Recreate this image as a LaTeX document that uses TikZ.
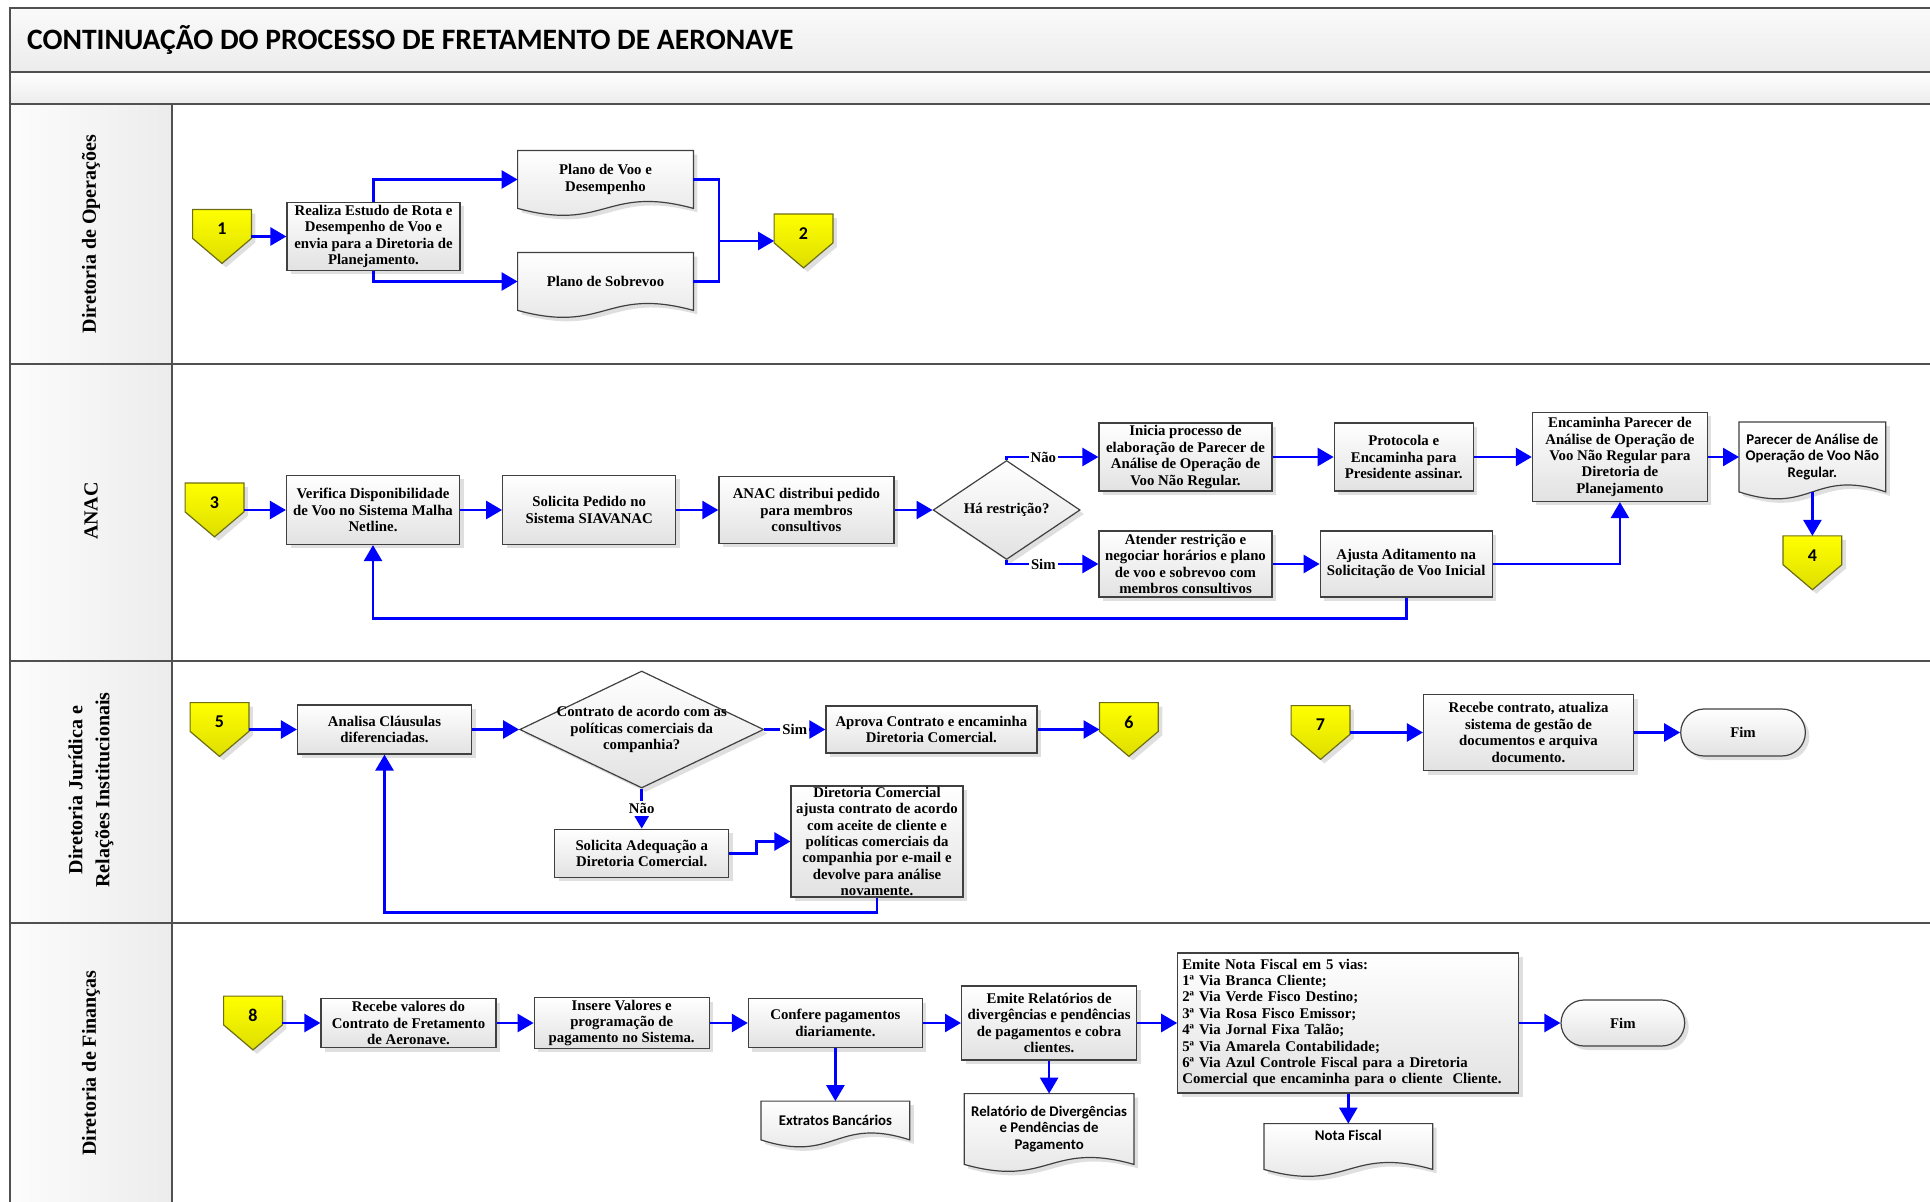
\documentclass[tikz,border=0pt]{standalone}
\usepackage{fontspec}
\setmainfont{Liberation Serif}
\newfontfamily\calibfont{Carlito}
\usetikzlibrary{positioning,arrows.meta,calc,shapes.geometric,shapes.misc,shadows,backgrounds}
\definecolor{FlowBlue}{RGB}{0,0,255}
\definecolor{EdgeGray}{RGB}{64,64,64}
\definecolor{LaneGray}{RGB}{80,80,80}
\definecolor{BoxBottom}{RGB}{226,226,226}
\definecolor{BandGray}{RGB}{236,236,236}
\definecolor{ConnTop}{RGB}{255,255,0}
\definecolor{ConnBottom}{RGB}{222,222,0}
\definecolor{ConnEdge}{RGB}{110,110,20}
\newcommand{\boxfont}{\fontsize{7.4pt}{8.2pt}\selectfont\bfseries}
\newcommand{\docfont}{\calibfont\fontsize{7.4pt}{8.2pt}\selectfont\bfseries}
\newcommand{\connfont}{\calibfont\fontsize{9pt}{10pt}\selectfont\bfseries}
\newcommand{\titlefont}{\calibfont\fontsize{14.8pt}{16pt}\selectfont\bfseries}
\tikzset{
  flow/.style={-{Triangle[length=8pt,width=9pt]},line width=1.3pt,draw=FlowBlue},
  plainflow/.style={line width=1.3pt,draw=FlowBlue},
  lane/.style={draw=LaneGray,line width=1pt},
  lanelabel/.style={rotate=90,align=center,font=\fontsize{10pt}{13.5pt}\selectfont\bfseries},
  shadebox/.style={draw=EdgeGray,line width=0.6pt,top color=white,bottom color=BoxBottom,
    drop shadow={shadow xshift=2pt,shadow yshift=-2pt,fill=gray!50}},
  proc/.style={shadebox,align=center,font=\boxfont,inner sep=1pt},
  decide/.style={diamond,shadebox,align=center,font=\boxfont,inner sep=0pt},
  term/.style={rounded rectangle,shadebox,font=\boxfont},
  doc/.style={align=center,font=\boxfont,inner sep=1pt},
  sansdoc/.style={doc,font=\docfont},
  docshape/.style={shadebox},
  conn/.style={minimum width=29pt,minimum height=26.5pt,inner sep=0pt,text depth=7.5pt,font=\connfont},
  connshape/.style={draw=ConnEdge,line width=0.6pt,top color=ConnTop,bottom color=ConnBottom,
    drop shadow={shadow xshift=2pt,shadow yshift=-2pt,fill=gray!50}},
  lbl/.style={fill=white,inner sep=1pt,font=\boxfont}
}
\begin{document}
\begin{tikzpicture}[x=0.5pt,y=-0.5pt]
  \useasboundingbox (0,0) rectangle (1930,1202);
  % frame and lanes
  \shade[top color=gray!4,bottom color=BandGray] (10,8) rectangle (1932,72);
  \shade[top color=white,bottom color=BandGray] (10,72) rectangle (1932,104);
  \shade[left color=gray!2,right color=BandGray] (10,104) rectangle (172,1204);
  \draw[lane] (1932,8) -- (10,8) -- (10,1204);
  \foreach \y in {72,104,364,661,923} \draw[lane] (10,\y) -- (1932,\y);
  \draw[lane] (172,104) -- (172,1204);
  \node[anchor=west,font=\titlefont] (title) at (20,40) {CONTINUAÇÃO DO PROCESSO DE FRETAMENTO DE AERONAVE};
  \node[lanelabel] (lopr) at (91,234) {Diretoria de Operações};
  \node[lanelabel] (lanac) at (91,511) {ANAC};
  \node[lanelabel] (ljur) at (91,790) {Diretoria Jurídica e\\Relações Institucionais};
  \node[lanelabel] (lfin) at (91,1063) {Diretoria de Finanças};

  % Diretoria de Operacoes
  \node[conn] (c1) at (222,236.5) {1};
  \node[proc,right=17.5pt of c1,minimum width=86.5pt,minimum height=34pt] (realiza) {Realiza Estudo de Rota e\\Desempenho de Voo e\\envia para a Diretoria de\\Planejamento.};
  \node[doc,minimum width=87.5pt,minimum height=28.5pt] (pvoo) at (605.5,179.5) {Plano de Voo e\\Desempenho};
  \node[doc,minimum width=87.5pt,minimum height=28.5pt] (psob) at (605.5,281.5) {Plano de Sobrevoo};
  \node[conn] (c2) at (803.5,241) {2};
  \coordinate (j1) at (719,241);
  \draw[flow] (c1) -- (realiza);
  \draw[flow] (realiza.north) |- (pvoo);
  \draw[flow] (realiza.south) |- (psob);
  \draw[plainflow] (pvoo) -| (j1);
  \draw[plainflow] (psob) -| (j1);
  \draw[flow] (j1) -- (c2);

  % ANAC
  \node[conn] (c3) at (214.5,510) {3};
  \node[proc,right=21pt of c3,minimum width=86.5pt,minimum height=34.5pt] (verifica) {Verifica Disponibilidade\\de Voo no Sistema Malha\\Netline.};
  \node[proc,right=21pt of verifica,minimum width=86.5pt,minimum height=34.5pt] (solicita) {Solicita Pedido no\\Sistema SIAVANAC};
  \node[proc,right=21pt of solicita,minimum width=87.5pt,minimum height=33.5pt] (distribui) {ANAC distribui pedido\\para membros\\consultivos};
  \node[decide,right=19pt of distribui,minimum width=73.5pt,minimum height=40pt] (restr) {Há restrição?};
  \node[proc,minimum width=86.5pt,minimum height=34pt] (inicia) at (1185.5,457) {Inicia processo de\\elaboração de Parecer de\\Análise de Operação de\\Voo Não Regular.};
  \node[proc,right=30.5pt of inicia,minimum width=69.5pt,minimum height=34pt] (protocola) {Protocola e\\Encaminha para\\Presidente assinar.};
  \node[proc,right=29pt of protocola,minimum width=87.5pt,minimum height=44.5pt] (encaminha) {Encaminha Parecer de\\Análise de Operação de\\Voo Não Regular para\\Diretoria de\\Planejamento};
  \node[sansdoc,right=15.5pt of encaminha,minimum width=73pt,minimum height=34.5pt] (parecer) {Parecer de Análise de\\Operação de Voo Não\\Regular.};
  \node[conn,below=22pt of parecer] (c4) {4};
  \node[proc,minimum width=86.5pt,minimum height=33pt,inner ysep=0pt] (atender) at (1185.5,564) {Atender restrição e\\negociar horários e plano\\de voo e sobrevoo com\\membros consultivos};
  \node[proc,right=23.5pt of atender,minimum width=86pt,minimum height=33pt] (ajusta) {Ajusta Aditamento na\\Solicitação de Voo Inicial};
  \draw[flow] (c3) -- (verifica);
  \draw[flow] (verifica) -- (solicita);
  \draw[flow] (solicita) -- (distribui);
  \draw[flow] (distribui) -- (restr);
  \draw[flow] (restr.north) |- node[lbl,pos=0.7] {Não} (inicia);
  \draw[flow] (restr.south) |- node[lbl,pos=0.7] {Sim} (atender);
  \draw[flow] (inicia) -- (protocola);
  \draw[flow] (protocola) -- (encaminha);
  \draw[flow] (encaminha) -- (parecer);
  \draw[flow] (parecer) -- (c4);
  \draw[flow] (atender) -- (ajusta);
  \draw[flow] (ajusta) -| (encaminha);
  \draw[flow] (ajusta.south) -- ++(0,21) -| (verifica);

  % Diretoria Juridica
  \node[conn] (c5) at (219.5,729.5) {5};
  \node[proc,right=24pt of c5,minimum width=87pt,minimum height=24.5pt] (analisa) {Analisa Cláusulas\\diferenciadas.};
  \node[decide,right=23.5pt of analisa,minimum width=122pt,minimum height=58.5pt,shape aspect=2.1,inner sep=-2.2pt] (contrato) {Contrato de acordo com as\\políticas comerciais da\\companhia?};
  \node[proc,right=30.5pt of contrato,minimum width=105.5pt,minimum height=23.5pt] (aprova) {Aprova Contrato e encaminha\\Diretoria Comercial.};
  \node[conn,right=31pt of aprova] (c6) {6};
  \node[conn] (c7) at (1320.5,732.5) {7};
  \node[proc,right=36.5pt of c7,minimum width=105pt,minimum height=38pt] (recebec) {Recebe contrato, atualiza\\sistema de gestão de\\documentos e arquiva\\documento.};
  \node[term,right=23pt of recebec,minimum width=69pt,minimum height=23.5pt] (fim1) {Fim};
  \node[proc,below=20pt of contrato,minimum width=87pt,minimum height=24pt] (adequa) {Solicita Adequação a\\Diretoria Comercial.};
  \node[proc,minimum width=86pt,minimum height=55.5pt,inner ysep=0pt] (dircom) at (877,841.5) {Diretoria Comercial\\ajusta contrato de acordo\\com aceite de cliente e\\políticas comerciais da\\companhia por e-mail e\\devolve para análise\\novamente.};
  \draw[flow] (c5) -- (analisa);
  \draw[flow] (analisa) -- (contrato);
  \draw[flow] (contrato) -- node[lbl] {Sim} (aprova);
  \draw[flow] (aprova) -- (c6);
  \draw[flow] (c7) -- (recebec);
  \draw[flow] (recebec) -- (fim1);
  \draw[flow] (contrato) -- node[lbl] {Não} (adequa);
  \draw[flow] (adequa.east) -- ++(27,0) |- (dircom);
  \draw[flow] (dircom.south) -- ++(0,15) -| (analisa);

  % Diretoria de Financas
  \node[conn] (c8) at (253,1023) {8};
  \node[proc,right=19pt of c8,minimum width=87.5pt,minimum height=24.5pt] (recebev) {Recebe valores do\\Contrato de Fretamento\\de Aeronave.};
  \node[proc,right=18.5pt of recebev,minimum width=87.5pt,minimum height=24.5pt] (insere) {Insere Valores e\\programação de\\pagamento no Sistema.};
  \node[proc,right=19pt of insere,minimum width=87pt,minimum height=24.5pt] (confere) {Confere pagamentos\\diariamente.};
  \node[proc,right=19pt of confere,minimum width=87.5pt,minimum height=37pt] (emite) {Emite Relatórios de\\divergências e pendências\\de pagamentos e cobra\\clientes.};
  \node[proc,right=20pt of emite,minimum width=170.5pt,minimum height=70pt,align=left,text width=166pt] (nf) {Emite Nota Fiscal em 5 vias:\\1ª Via Branca Cliente;\\2ª Via Verde Fisco Destino;\\3ª Via Rosa Fisco Emissor;\\4ª Via Jornal Fixa Talão;\\5ª Via Amarela Contabilidade;\\6ª Via Azul Controle Fiscal para a Diretoria\\Comercial que encaminha para o cliente~ Cliente.};
  \node[term,right=20.5pt of nf,minimum width=68.5pt,minimum height=23pt] (fim2) {Fim};
  \node[sansdoc,below=26.5pt of confere,minimum width=74pt,minimum height=19pt] (extratos) {Extratos Bancários};
  \node[sansdoc,below=16.5pt of emite,minimum width=84.5pt,minimum height=35pt] (relatorio) {Relatório de Divergências\\e Pendências de\\Pagamento};
  \node[sansdoc,below=15pt of nf,minimum width=84pt,minimum height=22.5pt,text depth=11pt] (notafiscal) {Nota Fiscal};
  \draw[flow] (c8) -- (recebev);
  \draw[flow] (recebev) -- (insere);
  \draw[flow] (insere) -- (confere);
  \draw[flow] (confere) -- (emite);
  \draw[flow] (emite) -- (nf);
  \draw[flow] (nf) -- (fim2);
  \draw[flow] (confere) -- (extratos);
  \draw[flow] (emite) -- (relatorio);
  \draw[flow] (nf) -- (notafiscal);

  % off-page connectors and documents
  \begin{scope}[on background layer]
    \foreach \c in {c1,c2,c3,c4,c5,c6,c7,c8}
      \draw[connshape] (\c.north west) -- (\c.north east) -- ([yshift=12.5pt]\c.south east)
        -- (\c.south) -- ([yshift=12.5pt]\c.south west) -- cycle;
    \foreach \d in {pvoo,psob,parecer,extratos,relatorio,notafiscal}
      \draw[docshape] (\d.north west) -- (\d.south west)
        .. controls ([yshift=-12pt]\d.south) and ([yshift=12pt]\d.south) .. (\d.south east)
        -- (\d.north east) -- cycle;
  \end{scope}
\end{tikzpicture}
\end{document}
